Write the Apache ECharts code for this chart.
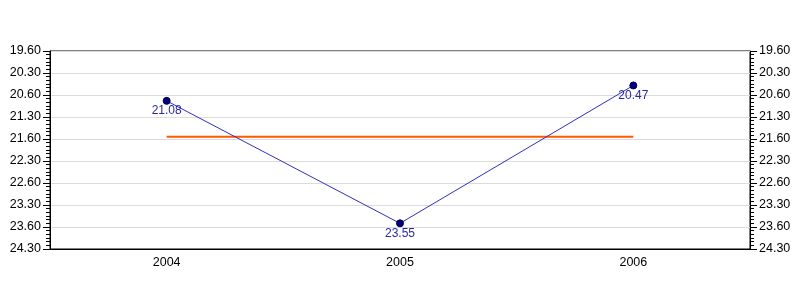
<!DOCTYPE html>
<html><head><meta charset="utf-8">
<script src="https://cdn.jsdelivr.net/npm/echarts@6/dist/echarts.min.js"></script>
<style>html,body{margin:0;padding:0;background:#fff}#c{width:800px;height:300px}</style>
</head><body><div id="c"></div>
<script>
// Times shown as minutes.seconds (mm.ss)
const categories = ['2004', '2005', '2006'];
const timeLabels = ['21.08', '23.55', '20.47'];
const averageLabel = '21.57';
const yTickLabels = ['19.60','20.30','20.60','21.30','21.60','22.30','22.60','23.30','23.60','24.30'];
const yMin = 20, yMax = 24.5, yStep = 0.5;

function mmssToMinutes(s) {
  const [m, sec] = s.split('.');
  return Number(m) + Number(sec) / 60;
}
const values = timeLabels.map(mmssToMinutes);
const avg = mmssToMinutes(averageLabel);
const avgSeries = categories.map(() => avg);

function tickLabel(v) {
  const i = Math.round((v - yMin) / yStep);
  return yTickLabels[i] !== undefined ? yTickLabels[i] : '';
}

const font = 'Liberation Sans, Arial, sans-serif';
const yAxisBase = {
  type: 'value', inverse: true, min: yMin, max: yMax, interval: yStep,
  axisLine: { show: true, lineStyle: { color: '#000', width: 1 } },
  axisTick: { show: true, length: 7, lineStyle: { color: '#000' } },
  minorTick: { show: true, splitNumber: 6, length: 4, lineStyle: { color: '#000' } },
  axisLabel: { formatter: tickLabel, color: '#000', fontFamily: font, fontSize: 12.5, margin: 9 },
};

const chart = echarts.init(document.getElementById('c'), null, { renderer: 'canvas' });
chart.setOption({
  animation: false,
  backgroundColor: '#fff',
  grid: { left: 50, right: 50, top: 51, bottom: 51, show: true, borderColor: '#000', borderWidth: 1 },
  xAxis: {
    type: 'category', data: categories, boundaryGap: true,
    axisLine: { lineStyle: { color: '#000' } },
    axisTick: { alignWithLabel: true, length: 5, lineStyle: { color: '#000' } },
    axisLabel: { color: '#000', fontFamily: font, fontSize: 12.5, margin: 7 },
    splitLine: { show: false }
  },
  yAxis: [
    Object.assign({}, yAxisBase, { position: 'left', splitLine: { show: true, lineStyle: { color: '#dcdcdc' } } }),
    Object.assign({}, yAxisBase, { position: 'right', splitLine: { show: false } })
  ],
  series: [
    {
      type: 'line', data: avgSeries, yAxisIndex: 0, symbol: 'none',
      lineStyle: { color: '#ff5a00', width: 2 }, z: 2
    },
    {
      type: 'line', data: values, yAxisIndex: 0,
      symbol: 'circle', symbolSize: 7,
      itemStyle: { color: '#000080', borderColor: '#000040', borderWidth: 1 },
      lineStyle: { color: '#3030c0', width: 1 },
      label: {
        show: true, position: 'bottom', distance: 0,
        formatter: p => timeLabels[p.dataIndex],
        color: '#2828a8', fontFamily: font, fontSize: 12
      },
      z: 3
    }
  ]
});
</script></body></html>
